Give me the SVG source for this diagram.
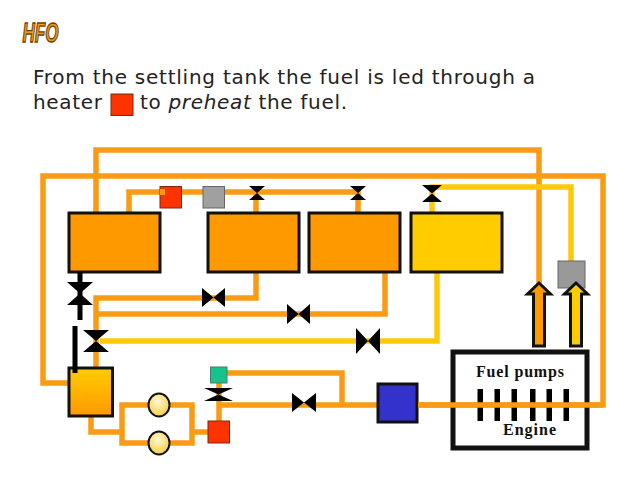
<svg xmlns="http://www.w3.org/2000/svg" width="640" height="480" viewBox="0 0 640 480">
  <style>
    .pipe { fill: none; stroke: #f99b14; stroke-width: 5.5; }
    .pipe-y { fill: none; stroke: #ffc90a; stroke-width: 5.5; }
    .tank { stroke: #111; stroke-width: 3; }
    .body { font-family: "DejaVu Sans", Verdana, sans-serif; font-size: 20px; fill: #222; }
    .eng { font-family: "Liberation Serif", serif; font-size: 16px; font-weight: bold; fill: #111; }
    .valve { fill: #000; }
    .bar { fill: #000; }
  </style>
  <defs>
    <linearGradient id="dayFill" x1="0" y1="0" x2="0" y2="1">
      <stop offset="0" stop-color="#ffcc00"/><stop offset="1" stop-color="#ff9900"/>
    </linearGradient>
    <radialGradient id="pumpFill" cx="0.45" cy="0.35" r="0.75">
      <stop offset="0" stop-color="#fff8d8"/><stop offset="1" stop-color="#f5c92a"/>
    </radialGradient>
  </defs>

  <text id="title" x="22.500" y="42" font-family="'Liberation Sans', sans-serif" font-size="27" font-weight="bold" font-style="italic" fill="#f39a1a" stroke="#6a4208" stroke-width="1.400" textLength="36" lengthAdjust="spacingAndGlyphs">HFO</text>
  <text class="body" x="33" y="84" textLength="502">From the settling tank the fuel is led through a</text>
  <text class="body" x="33" y="109" textLength="69">heater</text>
  <rect id="legend-heater" x="111" y="94" width="22" height="21.500" fill="#ff3300" stroke="#7a2a10" stroke-width="1"/>
  <text class="body" x="140" y="109" textLength="207">to <tspan font-style="italic">preheat</tspan> the fuel.</text>

  <g id="connectors">
    <path class="pipe" d="M96 213V150H539V284"/>
    <path class="pipe" d="M69 383H43V176H603V405H418"/>
    <path class="pipe" d="M129 213V192H358V213"/>
    <path class="pipe" d="M256 192V213"/>
    <path class="pipe" d="M96 368V298H256V272"/>
    <path class="pipe" d="M96 314H385V272"/>
    <path class="pipe-y" d="M100 341H437V272"/>
    <path class="pipe-y" d="M432 213V187H571V262"/>
    <path class="pipe" d="M91 416V432H122"/>
    <path class="pipe" d="M159 405H122V443H192V405H159"/>
    <path class="pipe" d="M192 432H208"/>
    <path class="pipe" d="M219 421V380"/>
    <path class="pipe" d="M219 405H378"/>
    <path class="pipe" d="M226 373H342V405"/>
  </g>

  <g id="tank-1"><rect class="tank" x="69" y="213" width="91" height="59" fill="#ff9900"/></g>
  <g id="tank-2"><rect class="tank" x="208" y="213" width="91" height="59" fill="#ff9900"/></g>
  <g id="tank-3"><rect class="tank" x="309" y="213" width="91" height="59" fill="#ff9900"/></g>
  <g id="tank-4"><rect class="tank" x="411" y="213" width="91" height="59" fill="#ffcc00"/></g>
  <g id="day-tank"><rect class="tank" x="69" y="368" width="43.500" height="48" fill="url(#dayFill)"/></g>

  <g id="heater-top"><rect x="160" y="186.500" width="21.500" height="21.500" fill="#ff3300" stroke="#7a2a10" stroke-width="1"/><path d="M160 189H165V195H160Z" fill="#f99b14"/></g>
  <g id="filter-top"><rect x="203" y="186.500" width="21.500" height="21.500" fill="#a0a0a0" stroke="#666" stroke-width="1"/></g>
  <g id="filter-return"><rect x="558" y="261" width="27" height="27" fill="#999" stroke="#666" stroke-width="1"/></g>

  <g id="valve-1"><path class="valve" d="M249 186H265L249 200H265Z"/></g>
  <g id="valve-2"><path class="valve" d="M350 186H366L350 200H366Z"/></g>
  <g id="valve-3"><path class="valve" d="M422 185H442L422 202H442Z"/></g>
  <g id="valve-4"><rect class="bar" x="77.500" y="272" width="5" height="48"/><path class="valve" d="M67 282H93L67 305H93Z"/></g>
  <g id="valve-5"><rect class="bar" x="72.500" y="326" width="5" height="47"/><path class="valve" d="M83 330H109L83 352H109Z"/></g>
  <g id="valve-6"><path class="valve" d="M202 288V307L225 288V307Z"/></g>
  <g id="valve-7"><path class="valve" d="M287 304V324L310 304V324Z"/></g>
  <g id="valve-8"><path class="valve" d="M356 328V354L380 328V354Z"/></g>
  <g id="valve-9"><path class="valve" d="M204 388H233L204 401H233Z"/></g>
  <g id="valve-10"><path class="valve" d="M292 393V412L316 393V412Z"/></g>

  <g id="pump-1"><ellipse cx="159" cy="405" rx="10.500" ry="11.500" fill="url(#pumpFill)" stroke="#111" stroke-width="2"/></g>
  <g id="pump-2"><ellipse cx="159" cy="443" rx="10.500" ry="11.500" fill="url(#pumpFill)" stroke="#111" stroke-width="2"/></g>
  <g id="heater-low"><rect x="208" y="421" width="21.500" height="22" fill="#ff3300" stroke="#7a2a10" stroke-width="1"/></g>
  <g id="viscosity"><rect x="210.500" y="367" width="16.500" height="16" fill="#14c48c" stroke="#4a7a6a" stroke-width="1"/></g>
  <g id="booster"><rect x="378" y="384" width="39" height="38" fill="#3333cc" stroke="#111" stroke-width="3"/></g>

  <g id="engine">
    <rect x="453" y="352" width="134" height="96" fill="none" stroke="#111" stroke-width="5"/>
    <path class="bar" d="M477.500 389h5.500v32h-5.500zM494.500 389h5.500v32h-5.500zM511.500 389h5.500v32h-5.500zM530 389h5.500v32h-5.500zM546.500 389h5.500v32h-5.500zM563.500 389h5.500v32h-5.500z"/>
    <path class="pipe" d="M418 405H603"/>
    <text class="eng" x="476" y="377" textLength="88">Fuel pumps</text>
    <text class="eng" x="503" y="435" textLength="53">Engine</text>
  </g>

  <g id="arrow-orange"><path d="M539 283L550.500 294H544.500V346H533.500V294H527.500Z" fill="#ff9900" stroke="#111" stroke-width="3"/></g>
  <g id="arrow-yellow"><path d="M576 283L587.500 294H581.500V346H570.500V294H564.500Z" fill="#ffcc00" stroke="#111" stroke-width="3"/></g>
</svg>
